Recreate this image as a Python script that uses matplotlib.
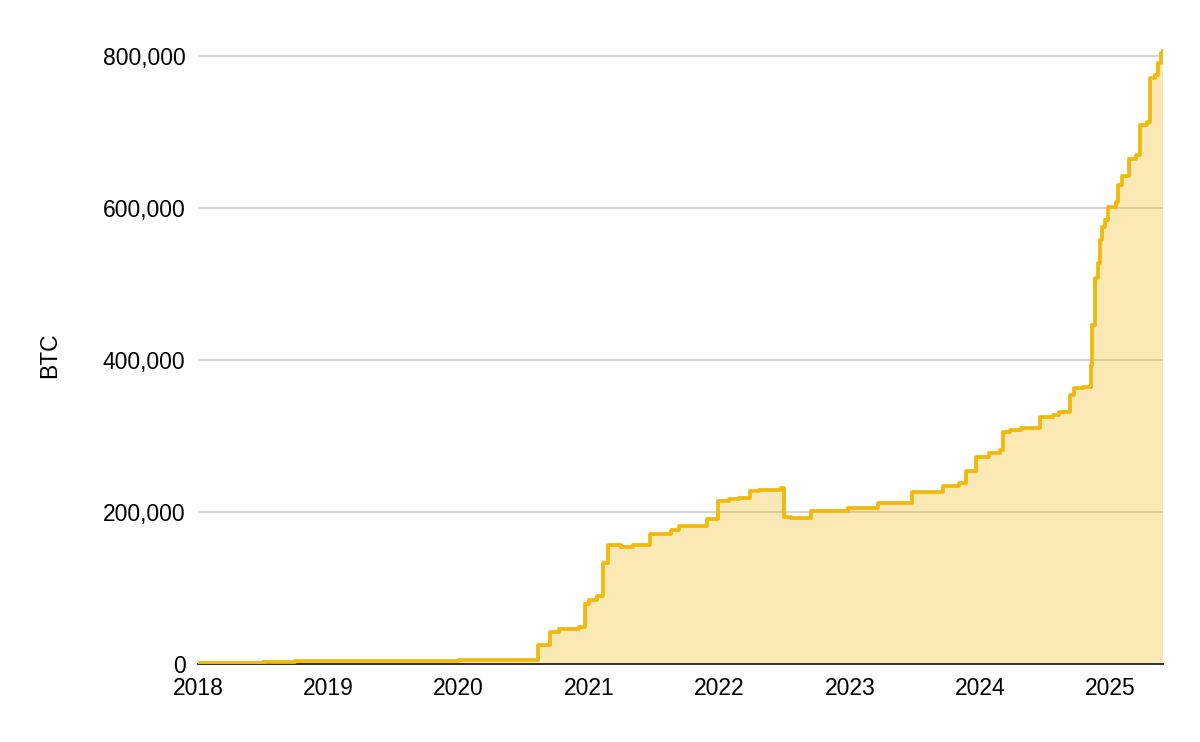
import pandas as pd
import numpy as np
import matplotlib
matplotlib.use("Agg")
import matplotlib.pyplot as plt
import matplotlib.dates as mdates
from matplotlib.ticker import FuncFormatter

dates = [
    "2018-01-01", "2018-04-01", "2018-07-01", "2018-10-01", "2019-07-01", "2020-01-01",
    "2020-08-11", "2020-09-14", "2020-10-08", "2020-12-04", "2020-12-21", "2021-01-01",
    "2021-01-22", "2021-02-08", "2021-02-24", "2021-03-31", "2021-05-03", "2021-06-21",
    "2021-08-19", "2021-09-09", "2021-11-26", "2021-12-28", "2022-01-27", "2022-02-26",
    "2022-03-28", "2022-04-22", "2022-06-23", "2022-06-30", "2022-07-21", "2022-09-13",
    "2022-12-27", "2023-03-21", "2023-06-25", "2023-09-20", "2023-11-04", "2023-11-24",
    "2023-12-22", "2024-01-27", "2024-02-25", "2024-03-05", "2024-03-24", "2024-04-26",
    "2024-06-17", "2024-07-24", "2024-08-10", "2024-09-09", "2024-09-20", "2024-10-15",
    "2024-11-07", "2024-11-11", "2024-11-18", "2024-11-27", "2024-12-02", "2024-12-08",
    "2024-12-17", "2024-12-24", "2025-01-17", "2025-01-22", "2025-02-03", "2025-02-21",
    "2025-03-12", "2025-03-23", "2025-04-13", "2025-04-21", "2025-05-06", "2025-05-14",
    "2025-05-21", "2025-05-27",
]
btc = [
    1200, 1800, 2800, 4300, 4500, 5000,
    25000, 42000, 46700, 49300, 79000, 84000,
    89500, 133000, 156600, 153500, 156000, 171000,
    176000, 181600, 190800, 215000, 217000, 219000,
    227600, 229000, 232000, 193800, 192500, 201000,
    205700, 212000, 226000, 234000, 237700, 254000,
    272000, 278000, 281600, 305700, 308000, 310000,
    324600, 327600, 332000, 354000, 362800, 364900,
    393000, 446000, 507500, 527000, 558000, 575000,
    584000, 601700, 608000, 630000, 642000, 664000,
    669700, 709000, 713600, 770600, 775000, 790000,
    803500, 806000,
]

df = pd.DataFrame({"date": pd.to_datetime(dates), "btc": btc})

plt.rcParams["font.family"] = ["Liberation Sans", "DejaVu Sans"]

fig = plt.figure(figsize=(12, 7.42), dpi=100)
ax = fig.add_axes([0.165, 0.105, 0.804, 0.832])

gold = "#F0B90B"
ax.fill_between(df["date"], df["btc"], step="post", color=gold, alpha=0.3, linewidth=0, zorder=2)
ax.plot(df["date"], df["btc"], drawstyle="steps-post", color=gold, linewidth=2.7, zorder=5)

ax.set_xlim(pd.Timestamp("2018-01-01"), df["date"].iloc[-1])
ax.set_ylim(0, 812000)
ax.set_yticks([0, 200000, 400000, 600000, 800000])
ax.yaxis.set_major_formatter(FuncFormatter(lambda v, p: f"{int(v):,}"))
ax.xaxis.set_major_locator(mdates.YearLocator())
ax.xaxis.set_major_formatter(mdates.DateFormatter("%Y"))

ax.grid(True, axis="y", color="#CCCCCC", linewidth=1.2, zorder=1)
ax.set_axisbelow(True)
for s in ["top", "right", "left"]:
    ax.spines[s].set_visible(False)
ax.spines["bottom"].set_color("#333333")
ax.spines["bottom"].set_linewidth(1.4)
ax.spines["bottom"].set_zorder(4)

ax.tick_params(axis="both", length=0, labelsize=16.5, colors="#000000")
ax.tick_params(axis="y", pad=9)
ax.tick_params(axis="x", pad=9)
ax.set_ylabel("BTC", fontsize=16.5, labelpad=30)

plt.savefig("out.png", dpi=100)
